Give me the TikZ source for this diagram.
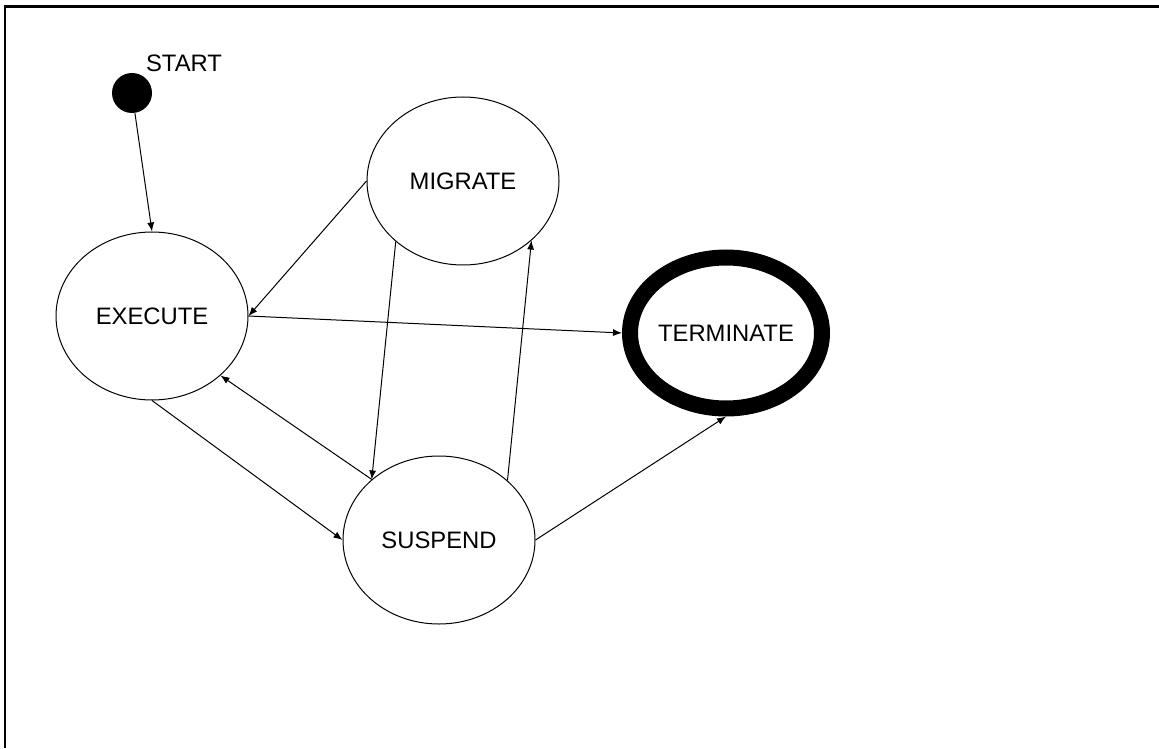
\documentclass[tikz,border=0pt]{standalone}
\usepackage{fontspec}
\setmainfont{Liberation Sans}
\usetikzlibrary{positioning,shapes.geometric,arrows.meta}

\begin{document}
\begin{tikzpicture}[x=0.5pt,y=-0.5pt,line width=0.5pt,
        every node/.style={font=\fontsize{11.9}{14}\selectfont},
        state/.style={draw, ellipse, line width=0.5pt, minimum width=96pt, minimum height=84pt, inner sep=0pt},
        >={Latex[length=4.5pt,width=3.5pt]}]
        \useasboundingbox (0,0) rectangle (1159,748);
        % frame (top and left edge only)
        \draw[line width=1.1pt] (4.8,748) |- (1159,6.5);
        % initial point
        \node[circle, fill, inner sep=0pt, minimum size=20pt] (start) at (132,93) {};
        \node (startlbl) at (184,63) {START};
        % states
        \node[state] (exec) at (152,316) {EXECUTE};
        \node[state] (migr) at (463,181) {MIGRATE};
        \node[state] (susp) at (439,540) {SUSPEND};
        \node[state, line width=8pt, minimum width=88pt, minimum height=75.5pt] (term) at (726,333) {TERMINATE};
        % transitions
        \foreach \a/\b in {start/exec.north, migr.west/exec.east, exec.east/term.west,
                migr.222/susp.138, susp.138/exec.319, exec.south/susp.west,
                susp.41/migr.319, susp.east/term.south}{
            \draw[->] (\a) -- (\b);
        }
\end{tikzpicture}
\end{document}
